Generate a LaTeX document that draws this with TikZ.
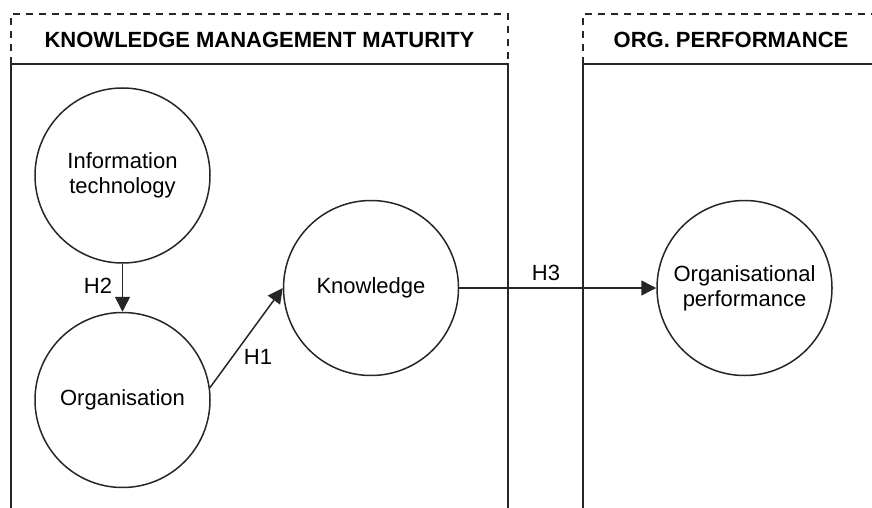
\documentclass[tikz,border=0pt]{standalone}
\usepackage{fontspec}
\setmainfont{Liberation Sans}
\usetikzlibrary{arrows.meta}
\tikzset{
    construct/.style={
        draw=black!85,
        circle,
        line width=0.75pt,
        minimum size=87.5pt,
        inner sep=0pt,
        align=center,
        font=\fontsize{11}{12.5}\selectfont
    },
    link/.style={
        draw=black!85,
        line width=0.75pt,
        -{Triangle[length=7.5pt, width=7.5pt]}
    },
    panel/.style={draw=black!85, line width=1pt},
    panelhead/.style={draw=black!85, line width=0.9pt, dash pattern=on 3.5pt off 3pt},
    header/.style={font=\fontsize{11}{13}\selectfont\bfseries},
    hyp/.style={font=\fontsize{11}{13}\selectfont}
}

\begin{document}
\begin{tikzpicture}[x=0.5pt, y=-0.5pt]
  \useasboundingbox (0,0) rectangle (872,508);

  % Panels
  \draw[panelhead] (11,64) -- (11,14) -- (508,14) -- (508,64);
  \draw[panel] (11,508) -- (11,64) -- (508,64) -- (508,508);
  \draw[panelhead] (583,64) -- (583,14) -- (880,14);
  \draw[panel] (583,508) -- (583,64) -- (880,64);
  \node[header] (kmm) at (259.5,40) {KNOWLEDGE MANAGEMENT MATURITY};
  \node[header] (perf) at (731,40) {ORG. PERFORMANCE};

  % Constructs
  \node[construct] (it) at (122.5,175.5) {Information\\technology};
  \node[construct] (org) at (122.5,400) {Organisation};
  \node[construct] (know) at (371,288) {Knowledge};
  \node[construct] (op) at (744.5,288) {Organisational\\performance};

  % Hypotheses
  \draw[link] (it) -- (org);
  \draw[link] (org.8) -- (know.west);
  \draw[link] (know.east) -- (op.west);
  \node[hyp] (h2) at (98,286) {H2};
  \node[hyp] (h1) at (258,357) {H1};
  \node[hyp] (h3) at (546,273) {H3};
\end{tikzpicture}
\end{document}
